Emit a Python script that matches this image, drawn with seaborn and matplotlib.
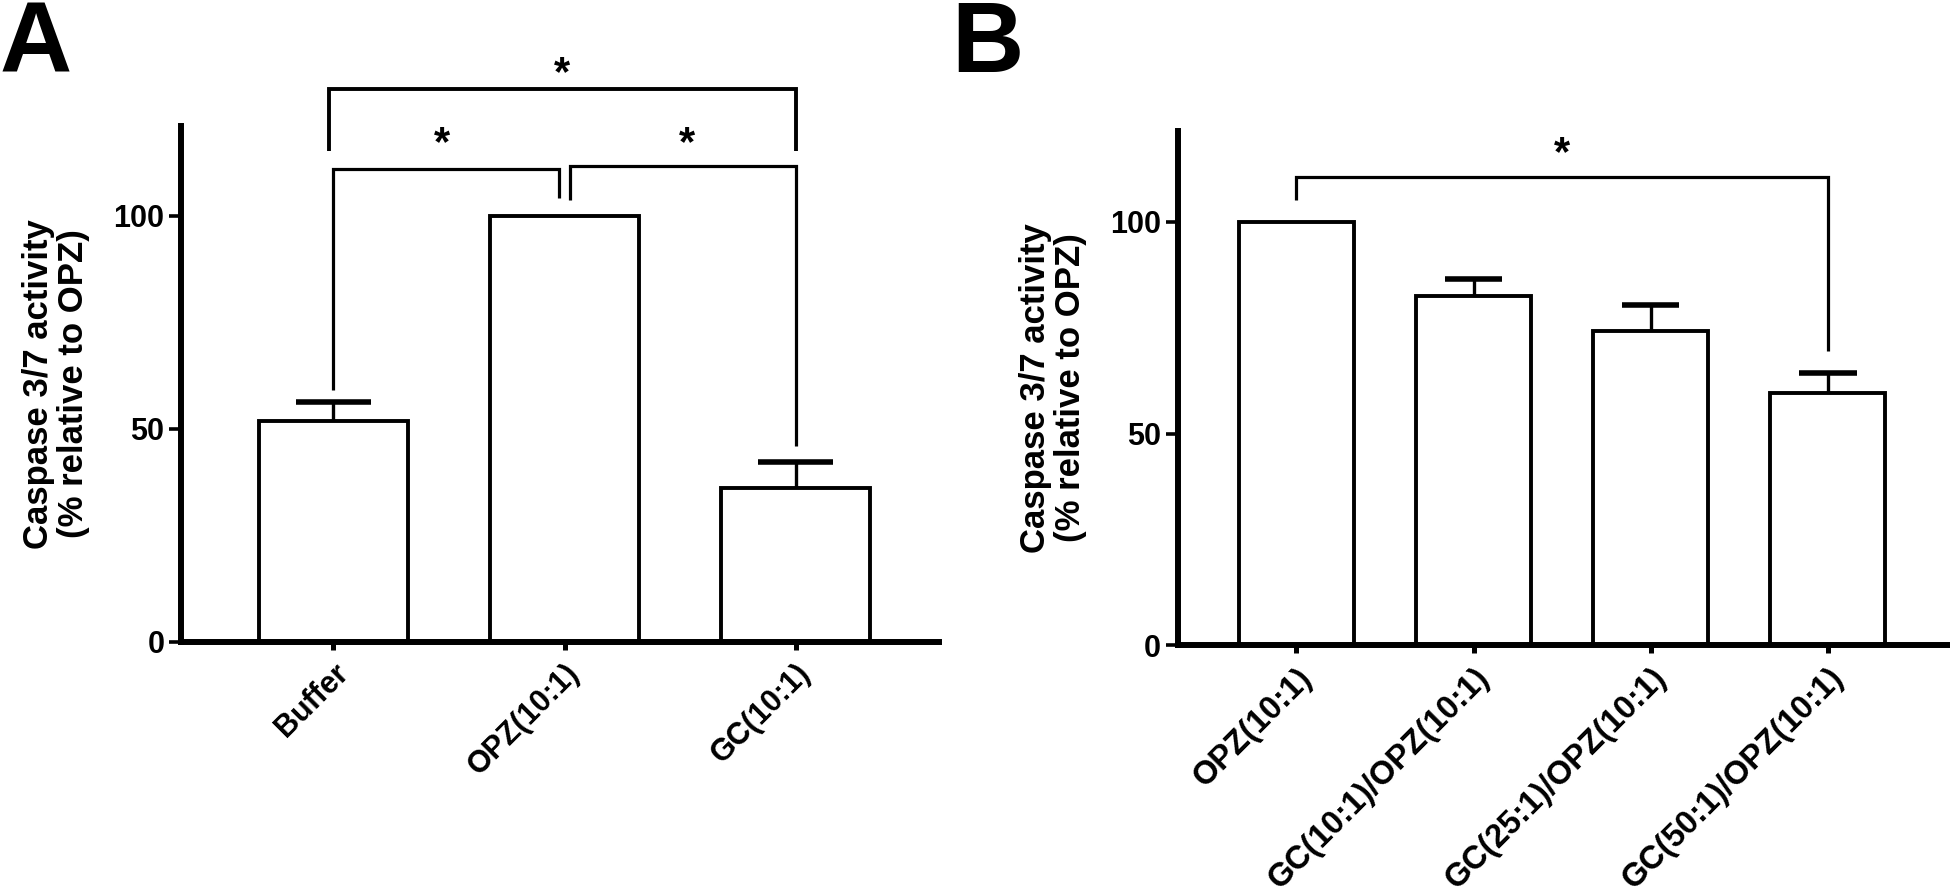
import matplotlib
matplotlib.use("Agg")
import matplotlib.pyplot as plt
import numpy as np
import pandas as pd
import seaborn as sns

# Panel A data
groups_a = ["Buffer", "OPZ(10:1)", "GC(10:1)"]
mean_a = [51.8, 100.0, 36.0]
sem_a = [4.5, 0.0, 6.3]

# Panel B data
groups_b = ["OPZ(10:1)", "GC(10:1)/OPZ(10:1)", "GC(25:1)/OPZ(10:1)", "GC(50:1)/OPZ(10:1)"]
mean_b = [100.0, 82.4, 74.3, 59.6]
sem_b = [0.0, 4.0, 6.1, 4.7]

ylabel = "Caspase 3/7 activity\n(% relative to OPZ)"

sns.set_style("ticks")
plt.rcParams["font.family"] = ["Liberation Sans", "DejaVu Sans"]
plt.rcParams["font.weight"] = "bold"
for key in ["text.color", "axes.edgecolor", "axes.labelcolor", "xtick.color", "ytick.color"]:
    plt.rcParams[key] = "black"


def draw_panel(ax, groups, means, sems, width, ymax, xlim, xfont):
    df = pd.DataFrame({"group": groups, "value": means})
    sns.barplot(data=df, x="group", y="value", order=groups, color="white",
                edgecolor="black", linewidth=2.8, width=width, ax=ax)
    for bar in ax.patches:
        bar.set_facecolor("white")

    # one-sided error bars (upper only), like GraphPad
    x = np.arange(len(groups))
    m = np.array(means)
    s = np.array(sems)
    keep = s > 0
    cap = width / 4
    ax.vlines(x[keep], m[keep], m[keep] + s[keep], color="black", lw=2.4)
    ax.hlines(m[keep] + s[keep], x[keep] - cap, x[keep] + cap, color="black", lw=4)

    ax.set_ylim(0, ymax)
    ax.set_xlim(*xlim)
    ax.set_yticks([0, 50, 100])
    ax.set_xlabel("")
    ax.set_ylabel(ylabel, fontsize=25, fontweight="bold", labelpad=17, linespacing=1.05)
    sns.despine(ax=ax)
    ax.spines["left"].set_linewidth(4.3)
    ax.spines["bottom"].set_linewidth(4.3)
    ax.tick_params(axis="y", length=8.5, width=2.6, pad=3.5, labelsize=22)
    ax.tick_params(axis="x", length=6, width=3.6, pad=6, labelsize=xfont)
    for lab in ax.get_yticklabels():
        lab.set_fontweight("bold")
    ax.set_xticks(x)
    ax.set_xticklabels(groups, rotation=45, ha="right", rotation_mode="anchor",
                       fontweight="bold")


def bracket(ax, x1, x2, y, y1, y2, lw=2.3):
    ax.plot([x1, x1, x2, x2], [y1, y, y, y2], color="black", lw=lw,
            solid_capstyle="butt", solid_joinstyle="miter", clip_on=False)


def star(ax, x, y):
    ax.text(x, y, "*", ha="center", va="baseline", fontsize=30,
            fontweight="bold", clip_on=False)


fig = plt.figure(figsize=(19.5, 8.96), dpi=100)
ax_a = fig.add_axes([0.0928, 0.2838, 0.3887, 0.5752])
ax_b = fig.add_axes([0.6040, 0.2797, 0.3960, 0.5745])

draw_panel(ax_a, groups_a, mean_a, sem_a, 0.645, 121, (-0.66, 2.62), 22)
draw_panel(ax_b, groups_b, mean_b, sem_b, 0.65, 121.5, (-0.67, 3.69), 23.5)

# significance brackets, panel A
bracket(ax_a, 0.0, 0.975, 111.0, 59.1, 104.1)
bracket(ax_a, 1.025, 2.0, 111.6, 103.8, 45.9)
bracket(ax_a, -0.02, 2.0, 129.7, 115.2, 115.2, lw=2.8)
star(ax_a, 0.47, 114.2)
star(ax_a, 1.53, 114.2)
star(ax_a, 0.99, 130.7)

# significance bracket, panel B
bracket(ax_b, 0.0, 3.0, 110.6, 105.2, 69.4)
star(ax_b, 1.5, 113.3)

fig.text(0.0, 1 - 72 / 896, "A", fontsize=72, fontweight="bold", va="baseline")
fig.text(0.488, 1 - 72 / 896, "B", fontsize=72, fontweight="bold", va="baseline")

fig.savefig("out.png", dpi=100)
